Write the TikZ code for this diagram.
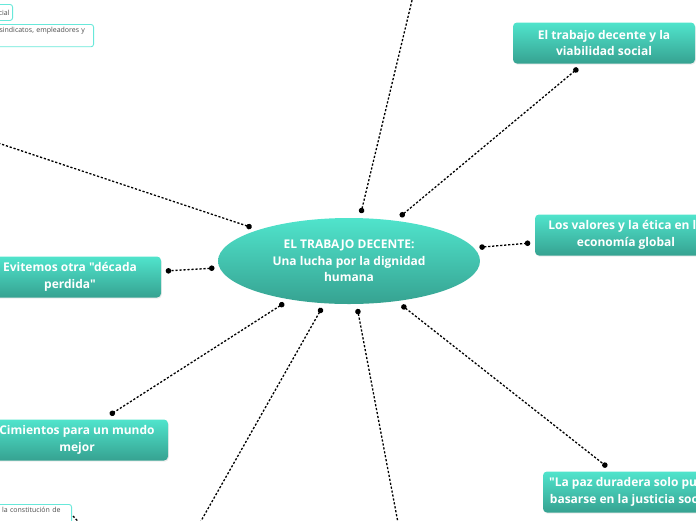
\documentclass[tikz,border=0pt]{standalone}
\usepackage{fontspec}
\setmainfont{Open Sans}[Ligatures=TeXOff]
\usetikzlibrary{positioning, arrows.meta, calc, shapes.geometric, shadows}

\definecolor{mmtop}{RGB}{80,228,204}
\definecolor{mmbot}{RGB}{54,162,145}
\definecolor{mmleaf}{RGB}{104,232,218}

\begin{document}
\begin{tikzpicture}[
  x=1pt, y=1pt,
  hub/.style={ellipse, minimum width=262pt, minimum height=86pt, inner sep=0pt,
    outer sep=5pt, top color=mmtop, bottom color=mmbot, text=white, align=center,
    font=\fontsize{12}{16.5}\selectfont\bfseries},
  topic/.style={rectangle, rounded corners=4pt, minimum width=182pt, minimum height=41pt,
    inner sep=2pt, top color=mmtop, bottom color=mmbot, text=white, align=center,
    font=\fontsize{12}{16.5}\selectfont\bfseries,
    drop shadow={opacity=0.15, shadow xshift=0.8pt, shadow yshift=-1.2pt}},
  leaf/.style={draw=mmleaf, line width=0.9pt, rounded corners=2.5pt, fill=white,
    text=black!70, align=left, inner xsep=4pt, inner ysep=3pt,
    font=\fontsize{7}{9}\selectfont},
  link/.style={line width=1.3pt, draw=black, dash pattern=on 2.2pt off 1.8pt},
  dlink/.style={link, {Circle[length=5.5pt]}-{Circle[length=5.5pt]}},
  olink/.style={link, {Circle[length=5.5pt]}-}
]
\clip (0,0) rectangle (696,-520);

% ================= CENTRE =================
\node[hub] (hub) at (349,-261) {EL TRABAJO DECENTE:\\Una lucha por la dignidad\\humana};

% ================= TOPICS =================
\node[topic] (viab) at (604,-43) {El trabajo decente y la\\viabilidad social};
\node[topic] (etica) at (626,-235) {Los valores y la ética en la\\economía global};
\node[topic] (paz) at (634,-492) {"La paz duradera solo puede\\basarse en la justicia social"};
\node[topic] (decada) at (70,-277) {Evitemos otra "década\\perdida"};
\node[topic] (cimientos) at (77,-440) {Cimientos para un mundo\\mejor};

% ================= LEAVES =================
\node[leaf, anchor=north east, inner xsep=3pt, minimum height=16pt] (social) at (13,-4) {cial};
\node[leaf, anchor=north east, text width=90pt, text depth=11pt] (actores) at (94,-24)
  {sindicatos, empleadores y};
\node[leaf, anchor=north east, text width=76pt, text depth=18pt] (constit) at (72,-504)
  {de la constitución de};

% ================= LINKS =================
\coordinate (offN) at (414,8);
\coordinate (offW) at (-8,-141);
\coordinate (offS1) at (197,-528);
\coordinate (offS2) at (399,-528);
\coordinate (offBL) at (86,-530);

\draw[olink] (hub.76) -- (offN);
\draw[dlink] (hub.41) -- ($(viab.south)+(-26,-4.5)$);
\draw[olink] (hub.161) -- (offW);
\draw[dlink] (hub.6) -- ($(etica.west)+(-4.5,-8)$);
\draw[dlink] (hub.183) -- ($(decada.east)+(4.5,6)$);
\draw[dlink] (hub.213) -- ($(cimientos.north)+(33,4.5)$);
\draw[olink] (hub.240) -- (offS1);
\draw[olink] (hub.280) -- (offS2);
\draw[dlink] (hub.320) -- ($(paz.north)+(-27,4.5)$);
\draw[link] ($(constit.north east)+(1,-12)$) -- (offBL);
\end{tikzpicture}
\end{document}
